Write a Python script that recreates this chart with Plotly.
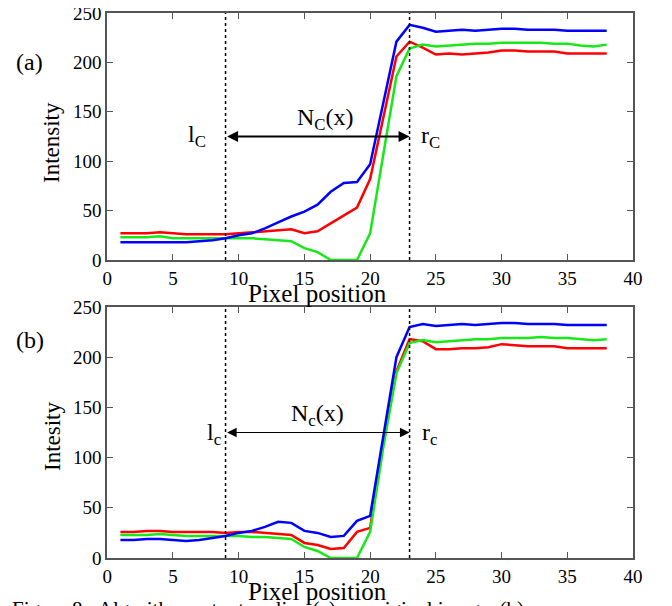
import plotly.graph_objects as go

# pixel positions along the scan line
pixels = list(range(1, 39))

# (a) original image
red_a = [27, 27, 27, 28, 27, 26, 26, 26, 26, 27, 28, 29, 30, 31, 27, 29, 37, 45, 53, 82,
         144, 206, 221, 215, 208, 209, 208, 209, 210, 212, 212, 211, 211, 211, 209, 209, 209, 209]
green_a = [23, 23, 23, 24, 22, 22, 22, 22, 22, 22, 22, 21, 20, 19, 12, 8, 0, 0, 0, 27,
           106, 186, 214, 218, 216, 217, 218, 219, 219, 220, 220, 220, 220, 219, 219, 217, 216, 218]
blue_a = [18, 18, 18, 18, 18, 18, 19, 20, 22, 25, 27, 32, 38, 44, 49, 56, 69, 78, 79, 97,
          159, 221, 238, 235, 231, 232, 233, 232, 233, 234, 234, 233, 233, 233, 232, 232, 232, 232]

# (b) processed image
red_b = [26, 26, 27, 27, 26, 26, 26, 26, 25, 26, 26, 25, 24, 23, 15, 13, 9, 10, 26, 30,
         115, 186, 218, 216, 208, 208, 209, 209, 210, 213, 212, 211, 211, 211, 209, 209, 209, 209]
green_b = [23, 23, 23, 24, 23, 22, 22, 22, 22, 22, 21, 21, 20, 19, 11, 7, 0, 0, 0, 26,
           110, 184, 214, 217, 215, 216, 217, 218, 218, 219, 219, 219, 220, 219, 219, 218, 217, 218]
blue_b = [18, 18, 19, 19, 18, 17, 18, 20, 22, 25, 27, 31, 36, 35, 27, 25, 21, 22, 37, 42,
          121, 200, 230, 233, 231, 232, 233, 232, 233, 234, 234, 233, 233, 233, 232, 232, 232, 232]

x_ticks = [0, 5, 10, 15, 20, 25, 30, 35, 40]
y_ticks = [0, 50, 100, 150, 200, 250]
left_edge, right_edge = 9, 23
arrow_level = 125

# the page body adds an 8px margin, so the figure is drawn 8px smaller and shifted
OFF = 8
W, H = 672 - OFF, 606 - OFF
SERIF = "Liberation Serif"
COLORS = {"red": "#ff0000", "green": "#18e818", "blue": "#0000ff"}


def px(x):
    return (x - OFF) / W


def py(y):
    return 1 - (y - OFF) / H


fig = go.Figure()

panels = [
    ("x", "y", red_a, green_a, blue_a),
    ("x2", "y2", red_b, green_b, blue_b),
]
for xa, ya, r, g, b in panels:
    for name, vals in (("red", r), ("green", g), ("blue", b)):
        fig.add_trace(go.Scatter(x=pixels, y=vals, mode="lines", xaxis=xa, yaxis=ya,
                                 line=dict(color=COLORS[name], width=2.5),
                                 showlegend=False, hoverinfo="skip"))
    for xv in (left_edge, right_edge):
        fig.add_trace(go.Scatter(x=[xv, xv], y=[0, 250], mode="lines", xaxis=xa, yaxis=ya,
                                 line=dict(color="black", width=1.5, dash="dot"),
                                 showlegend=False, hoverinfo="skip"))

axis_style = dict(showline=True, linecolor="#555555", linewidth=1.5, mirror="allticks",
                  ticks="inside", ticklen=6, tickcolor="#555555", showgrid=False,
                  zeroline=False, automargin=False, ticklabeloverflow="allow",
                  tickfont=dict(family=SERIF, size=19, color="black"))

x_dom = [px(107), px(633)]
fig.update_layout(
    width=W, height=H, margin=dict(l=0, r=0, t=0, b=0),
    plot_bgcolor="white", paper_bgcolor="white",
    xaxis=dict(domain=x_dom, anchor="y", range=[-0.02, 40], tickvals=x_ticks, **axis_style),
    yaxis=dict(domain=[py(260), py(13)], anchor="x", range=[0, 250], tickvals=y_ticks, **axis_style),
    xaxis2=dict(domain=x_dom, anchor="y2", range=[-0.02, 40], tickvals=x_ticks, **axis_style),
    yaxis2=dict(domain=[py(558), py(307)], anchor="x2", range=[0, 250], tickvals=y_ticks, **axis_style),
)

ann = []
# double arrows between the edges
for xr, yr, w in (("x", "y", 2), ("x2", "y2", 1.2)):
    ann.append(dict(x=right_edge, y=arrow_level, ax=left_edge, ay=arrow_level, xref=xr, yref=yr,
                    axref=xr, ayref=yr, showarrow=True, arrowhead=2, startarrowhead=2,
                    arrowside="end+start", arrowwidth=w, arrowsize=1.6 if w < 2 else 1.1,
                    arrowcolor="black", text=""))

font_lbl = dict(family=SERIF, size=24, color="black")
ann += [
    dict(x=6.8, y=126, xref="x", yref="y", text="l<sub>C</sub>", showarrow=False, font=font_lbl),
    dict(x=16.6, y=143, xref="x", yref="y", text="N<sub>C</sub>(x)", showarrow=False, font=font_lbl),
    dict(x=24.6, y=124, xref="x", yref="y", text="r<sub>C</sub>", showarrow=False, font=font_lbl),
    dict(x=8.1, y=124, xref="x2", yref="y2", text="l<sub>c</sub>", showarrow=False, font=font_lbl),
    dict(x=16.0, y=142, xref="x2", yref="y2", text="N<sub>c</sub>(x)", showarrow=False, font=font_lbl),
    dict(x=24.5, y=124, xref="x2", yref="y2", text="r<sub>c</sub>", showarrow=False, font=font_lbl),
]
paper_text = [
    ("(a)", 29, 62, 24, 0),
    ("(b)", 30, 340, 24, 0),
    ("Intensity", 52, 143, 23, -90),
    ("Intesity", 52, 437, 23, -90),
    ("Pixel position", 317, 293, 25, 0),
    ("Pixel position", 317, 591, 25, 0),
]
for text, cx, cy, size, angle in paper_text:
    ann.append(dict(x=px(cx), y=py(cy), xref="paper", yref="paper", xanchor="center",
                    yanchor="middle", text=text, textangle=angle, showarrow=False,
                    font=dict(family=SERIF, size=size, color="black")))
ann.append(dict(x=px(10), y=py(595), xref="paper", yref="paper", xanchor="left", yanchor="top",
                text="Figure 8:  Algorithm output on line (a) on original image, (b) on",
                showarrow=False, font=dict(family=SERIF, size=21, color="black")))
fig.update_layout(annotations=ann)

fig.write_html("out.html")
